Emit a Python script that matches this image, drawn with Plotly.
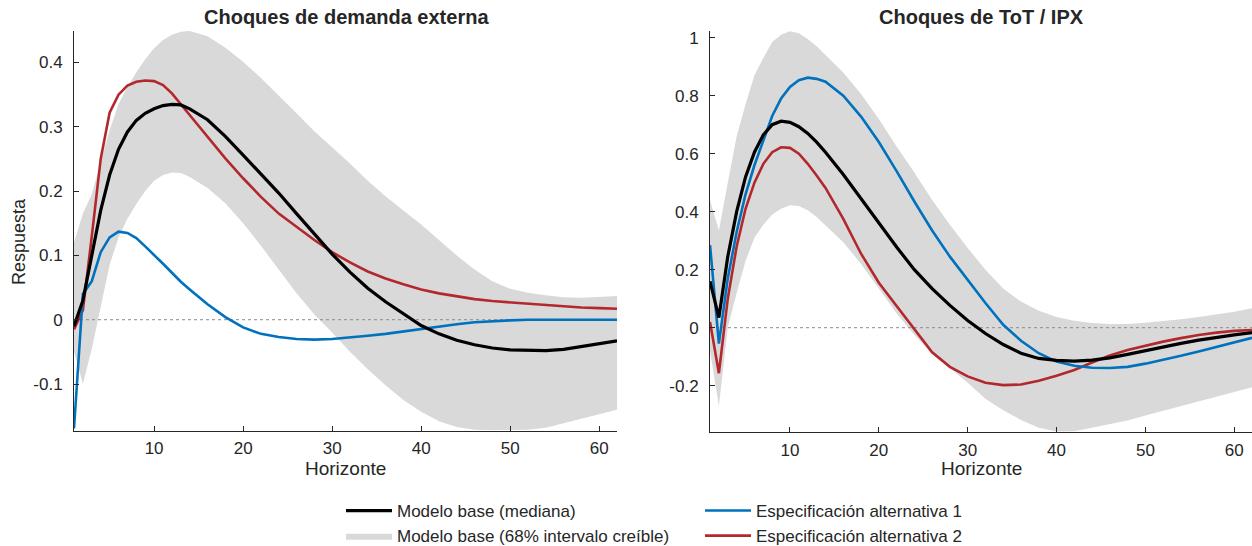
import plotly.graph_objects as go

# Horizons (x values)
horizons = [1, 2, 3, 4, 5, 6, 7, 8, 9, 10, 11, 12, 13, 14, 16, 18, 20, 22, 24, 26, 28, 30,
            32, 34, 36, 38, 40, 42, 44, 46, 48, 50, 52, 54, 56, 58, 60, 62]

# ---- Panel 1: Choques de demanda externa ----
dem_base = [-0.010, 0.030, 0.100, 0.170, 0.225, 0.265, 0.292, 0.310, 0.321, 0.328, 0.333, 0.335,
            0.334, 0.328, 0.311, 0.285, 0.256, 0.227, 0.197, 0.165, 0.133, 0.102, 0.074, 0.049,
            0.028, 0.009, -0.009, -0.022, -0.032, -0.039, -0.044, -0.047, -0.048, -0.048, -0.046,
            -0.042, -0.038, -0.033]
dem_alt1 = [-0.169, 0.040, 0.060, 0.105, 0.128, 0.137, 0.135, 0.127, 0.114, 0.101, 0.087, 0.073,
            0.059, 0.047, 0.024, 0.004, -0.012, -0.022, -0.027, -0.030, -0.031, -0.030, -0.028,
            -0.025, -0.022, -0.018, -0.014, -0.010, -0.007, -0.004, -0.002, -0.001, 0.000, 0.000,
            0.000, 0.000, 0.000, 0.000]
dem_alt2 = [-0.015, 0.015, 0.130, 0.250, 0.322, 0.350, 0.364, 0.370, 0.372, 0.371, 0.365, 0.352,
            0.335, 0.318, 0.285, 0.251, 0.220, 0.191, 0.165, 0.144, 0.124, 0.105, 0.089, 0.075,
            0.064, 0.055, 0.047, 0.041, 0.036, 0.032, 0.029, 0.027, 0.024, 0.022, 0.020, 0.019,
            0.018, 0.017]
dem_upper = [0.120, 0.165, 0.195, 0.245, 0.295, 0.335, 0.362, 0.385, 0.405, 0.422, 0.435, 0.443,
             0.448, 0.449, 0.441, 0.423, 0.401, 0.376, 0.349, 0.321, 0.293, 0.268, 0.243, 0.216,
             0.192, 0.170, 0.148, 0.124, 0.100, 0.078, 0.060, 0.048, 0.042, 0.038, 0.035, 0.034,
             0.035, 0.037]
dem_lower = [-0.050, -0.100, -0.045, 0.020, 0.085, 0.128, 0.157, 0.180, 0.200, 0.216, 0.225, 0.229,
             0.228, 0.222, 0.205, 0.181, 0.150, 0.115, 0.078, 0.041, 0.008, -0.020, -0.050, -0.077,
             -0.102, -0.125, -0.143, -0.158, -0.167, -0.171, -0.172, -0.172, -0.171, -0.168, -0.162,
             -0.154, -0.147, -0.140]

# ---- Panel 2: Choques de ToT / IPX ----
tot_base = [0.160, 0.035, 0.245, 0.400, 0.520, 0.605, 0.665, 0.700, 0.712, 0.708, 0.693, 0.670,
            0.640, 0.605, 0.528, 0.445, 0.360, 0.278, 0.200, 0.135, 0.077, 0.025, -0.020, -0.058,
            -0.088, -0.106, -0.113, -0.115, -0.112, -0.104, -0.092, -0.079, -0.066, -0.054, -0.043,
            -0.033, -0.025, -0.017]
tot_alt1 = [0.285, -0.055, 0.170, 0.330, 0.460, 0.560, 0.645, 0.730, 0.790, 0.830, 0.853, 0.862,
            0.858, 0.848, 0.800, 0.728, 0.640, 0.540, 0.435, 0.335, 0.245, 0.165, 0.085, 0.010,
            -0.045, -0.088, -0.117, -0.131, -0.138, -0.139, -0.135, -0.124, -0.111, -0.097, -0.082,
            -0.066, -0.051, -0.035]
tot_alt2 = [0.020, -0.157, 0.100, 0.280, 0.410, 0.500, 0.565, 0.605, 0.622, 0.620, 0.600, 0.565,
            0.525, 0.482, 0.375, 0.255, 0.155, 0.075, -0.005, -0.085, -0.135, -0.168, -0.190, -0.198,
            -0.196, -0.183, -0.166, -0.146, -0.120, -0.096, -0.077, -0.062, -0.048, -0.036, -0.025,
            -0.017, -0.011, -0.008]
tot_upper = [0.440, 0.335, 0.500, 0.660, 0.770, 0.870, 0.930, 0.985, 1.010, 1.022, 1.015, 0.995,
             0.970, 0.940, 0.880, 0.806, 0.720, 0.625, 0.535, 0.440, 0.355, 0.275, 0.200, 0.135,
             0.090, 0.058, 0.037, 0.024, 0.016, 0.013, 0.013, 0.017, 0.022, 0.029, 0.037, 0.045,
             0.055, 0.067]
tot_lower = [-0.080, -0.270, 0.000, 0.120, 0.230, 0.310, 0.355, 0.390, 0.410, 0.422, 0.420, 0.405,
             0.382, 0.354, 0.295, 0.220, 0.135, 0.050, -0.025, -0.090, -0.140, -0.190, -0.245, -0.285,
             -0.318, -0.345, -0.358, -0.357, -0.345, -0.333, -0.320, -0.303, -0.285, -0.270, -0.253,
             -0.238, -0.222, -0.205]

# Tick labels
dem_ytickvals = [-0.1, 0, 0.1, 0.2, 0.3, 0.4]
dem_yticktext = ["-0.1", "0", "0.1", "0.2", "0.3", "0.4"]
tot_ytickvals = [-0.2, 0, 0.2, 0.4, 0.6, 0.8, 1.0]
tot_yticktext = ["-0.2", "0", "0.2", "0.4", "0.6", "0.8", "1"]
xtickvals = [10, 20, 30, 40, 50, 60]
xticktext = ["10", "20", "30", "40", "50", "60"]

titles = ["Choques de demanda externa", "Choques de ToT / IPX"]
names = ["Modelo base (mediana)", "Modelo base (68% intervalo creíble)",
         "Especificación alternativa 1", "Especificación alternativa 2"]

FONT = "Liberation Sans, Arial, Helvetica, sans-serif"
TXT = "#262626"
C_BASE = "#000000"
C_BAND = "#d9d9d9"
C_ALT1 = "#0072bd"
C_ALT2 = "#b2282d"

W, H = 1252, 546

fig = go.Figure()

panels = [
    ("x", "y", dem_base, dem_alt1, dem_alt2, dem_upper, dem_lower, True),
    ("x2", "y2", tot_base, tot_alt1, tot_alt2, tot_upper, tot_lower, False),
]
for xa, ya, base, a1, a2, up, lo, show in panels:
    fig.add_trace(go.Scatter(
        x=horizons + horizons[::-1], y=up + lo[::-1], xaxis=xa, yaxis=ya,
        fill="toself", fillcolor=C_BAND, line=dict(width=0, color=C_BAND),
        mode="lines", name=names[1], showlegend=show, legend="legend", legendrank=2,
        hoverinfo="skip"))
    fig.add_trace(go.Scatter(
        x=[horizons[0], horizons[-1]], y=[0, 0], xaxis=xa, yaxis=ya, mode="lines",
        line=dict(color="#8c8c8c", width=1, dash="dot"), showlegend=False, hoverinfo="skip"))
    fig.add_trace(go.Scatter(
        x=horizons, y=a2, xaxis=xa, yaxis=ya, mode="lines", name=names[3],
        line=dict(color=C_ALT2, width=2.6), showlegend=show, legend="legend2", legendrank=2))
    fig.add_trace(go.Scatter(
        x=horizons, y=a1, xaxis=xa, yaxis=ya, mode="lines", name=names[2],
        line=dict(color=C_ALT1, width=2.6), showlegend=show, legend="legend2", legendrank=1))
    fig.add_trace(go.Scatter(
        x=horizons, y=base, xaxis=xa, yaxis=ya, mode="lines", name=names[0],
        line=dict(color=C_BASE, width=3.2), showlegend=show, legend="legend", legendrank=1))

def px_x(p):
    return p / W

def px_y(p):
    return 1 - p / H

axis_common = dict(
    showgrid=False, zeroline=False, showline=True, linecolor=TXT, linewidth=1,
    ticks="inside", ticklen=5, tickwidth=1, tickcolor=TXT, automargin=False,
    tickfont=dict(family=FONT, size=17, color=TXT), mirror=False, fixedrange=True,
)

legend_common = dict(xanchor="left", yanchor="top", xref="container", yref="container",
                     bgcolor="rgba(0,0,0,0)", font=dict(family=FONT, size=17, color=TXT),
                     itemwidth=46, tracegroupgap=0, traceorder="normal")

fig.update_layout(
    template="none",
    width=W, height=H,
    margin=dict(l=0, r=0, t=0, b=0, autoexpand=False),
    paper_bgcolor="white", plot_bgcolor="white",
    font=dict(family=FONT, color=TXT),
    xaxis=dict(domain=[px_x(74), px_x(617)], range=[1, 62], anchor="y",
               tickvals=xtickvals, ticktext=xticktext, ticklabelstandoff=2, **axis_common),
    yaxis=dict(domain=[px_y(430.5), px_y(31)], range=[-0.1723, 0.449], anchor="x",
               tickvals=dem_ytickvals, ticktext=dem_yticktext, ticklabelstandoff=7, **axis_common),
    xaxis2=dict(domain=[px_x(710), px_x(1252)], range=[1, 62], anchor="y2",
                tickvals=xtickvals, ticktext=xticktext, ticklabelstandoff=2, **axis_common),
    yaxis2=dict(domain=[px_y(432.3), px_y(31)], range=[-0.3607, 1.023], anchor="x2",
                tickvals=tot_ytickvals, ticktext=tot_yticktext, ticklabelstandoff=7, **axis_common),
    legend=dict(x=px_x(341), y=px_y(493), **legend_common),
    legend2=dict(x=px_x(700), y=px_y(493), **legend_common),
    showlegend=True,
)

annotations = [
    dict(text="<b>%s</b>" % titles[0], x=px_x(346), y=px_y(17), xref="paper", yref="paper",
         showarrow=False, xanchor="center", yanchor="middle", font=dict(family=FONT, size=20, color=TXT)),
    dict(text="<b>%s</b>" % titles[1], x=px_x(981), y=px_y(17), xref="paper", yref="paper",
         showarrow=False, xanchor="center", yanchor="middle", font=dict(family=FONT, size=20, color=TXT)),
    dict(text="Horizonte", x=px_x(345.5), y=px_y(469), xref="paper", yref="paper",
         showarrow=False, xanchor="center", yanchor="middle", font=dict(family=FONT, size=19, color=TXT)),
    dict(text="Horizonte", x=px_x(981), y=px_y(469), xref="paper", yref="paper",
         showarrow=False, xanchor="center", yanchor="middle", font=dict(family=FONT, size=19, color=TXT)),
    dict(text="Respuesta", x=px_x(19), y=px_y(242), xref="paper", yref="paper", textangle=-90,
         showarrow=False, xanchor="center", yanchor="middle", font=dict(family=FONT, size=18, color=TXT)),
]
fig.update_layout(annotations=annotations)

# remove the page's default 8px body margin so the figure sits at the window origin
fig.write_html("out.html",
               config={"displayModeBar": False, "staticPlot": False},
               post_script="document.body.style.margin='0';document.body.style.overflow='hidden';")
